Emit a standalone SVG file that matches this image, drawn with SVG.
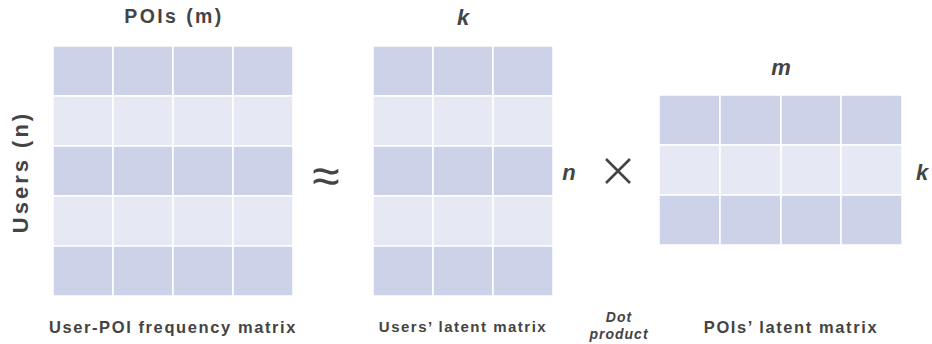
<svg xmlns="http://www.w3.org/2000/svg" width="932" height="344" viewBox="0 0 932 344">
<style>
.d{fill:#ccd2e7;stroke:#fff;stroke-width:1.5}
.l{fill:#e6e8f3;stroke:#fff;stroke-width:1.5}
text{font-family:"Liberation Sans",Arial,sans-serif;font-weight:bold;fill:#444;text-anchor:middle}
.t{font-size:19.5px;letter-spacing:2.4px}
.y{font-size:22px;letter-spacing:3px}
.v{font-size:22px;font-style:italic}
.c{font-size:16.5px;letter-spacing:1.6px}
.i{font-size:14px;font-style:italic;letter-spacing:1px}
</style>
<defs>
<g id="rd"><rect class="d" x="0" y="0" width="60" height="50"/></g>
<g id="rl"><rect class="l" x="0" y="0" width="60" height="50"/></g>
</defs>
<rect width="932" height="344" fill="#fff"/>
<g id="user-poi-matrix">
<g transform="translate(53,46)">
<use href="#rd" x="0" y="0"/><use href="#rd" x="60" y="0"/><use href="#rd" x="120" y="0"/><use href="#rd" x="180" y="0"/>
<use href="#rl" x="0" y="50"/><use href="#rl" x="60" y="50"/><use href="#rl" x="120" y="50"/><use href="#rl" x="180" y="50"/>
<use href="#rd" x="0" y="100"/><use href="#rd" x="60" y="100"/><use href="#rd" x="120" y="100"/><use href="#rd" x="180" y="100"/>
<use href="#rl" x="0" y="150"/><use href="#rl" x="60" y="150"/><use href="#rl" x="120" y="150"/><use href="#rl" x="180" y="150"/>
<use href="#rd" x="0" y="200"/><use href="#rd" x="60" y="200"/><use href="#rd" x="120" y="200"/><use href="#rd" x="180" y="200"/>
</g>
<text class="t" x="174" y="23">POIs (m)</text>
<text class="y" x="0" y="0" transform="translate(28,172) rotate(-90)">Users (n)</text>
<text class="c" x="173" y="333">User-POI frequency matrix</text>
</g>
<g id="approx"><text x="326" y="193" style="font-size:50px;font-weight:normal">≈</text></g>
<g id="users-latent">
<g transform="translate(373,46)">
<use href="#rd" x="0" y="0"/><use href="#rd" x="60" y="0"/><use href="#rd" x="120" y="0"/>
<use href="#rl" x="0" y="50"/><use href="#rl" x="60" y="50"/><use href="#rl" x="120" y="50"/>
<use href="#rd" x="0" y="100"/><use href="#rd" x="60" y="100"/><use href="#rd" x="120" y="100"/>
<use href="#rl" x="0" y="150"/><use href="#rl" x="60" y="150"/><use href="#rl" x="120" y="150"/>
<use href="#rd" x="0" y="200"/><use href="#rd" x="60" y="200"/><use href="#rd" x="120" y="200"/>
</g>
<text class="v" x="463" y="25">k</text>
<text class="v" x="569" y="180">n</text>
<text class="c" x="463" y="332" style="font-size:15px;letter-spacing:1.5px">Users’ latent matrix</text>
</g>
<g id="times"><path d="M606,159 L630,183 M630,159 L606,183" stroke="#444" stroke-width="2.6" fill="none"/></g>
<g id="dot-product">
<text class="i" x="619" y="322">Dot</text>
<text class="i" x="619" y="339">product</text>
</g>
<g id="pois-latent">
<g transform="translate(659,95)">
<rect class="d" x="0" y="0" width="61" height="50"/><rect class="d" x="61" y="0" width="61" height="50"/><rect class="d" x="122" y="0" width="60" height="50"/><rect class="d" x="182" y="0" width="61" height="50"/>
<rect class="l" x="0" y="50" width="61" height="50"/><rect class="l" x="61" y="50" width="61" height="50"/><rect class="l" x="122" y="50" width="60" height="50"/><rect class="l" x="182" y="50" width="61" height="50"/>
<rect class="d" x="0" y="100" width="61" height="50"/><rect class="d" x="61" y="100" width="61" height="50"/><rect class="d" x="122" y="100" width="60" height="50"/><rect class="d" x="182" y="100" width="61" height="50"/>
</g>
<text class="v" x="781" y="75">m</text>
<text class="v" x="922" y="180">k</text>
<text class="c" x="791" y="333">POIs’ latent matrix</text>
</g>
</svg>
